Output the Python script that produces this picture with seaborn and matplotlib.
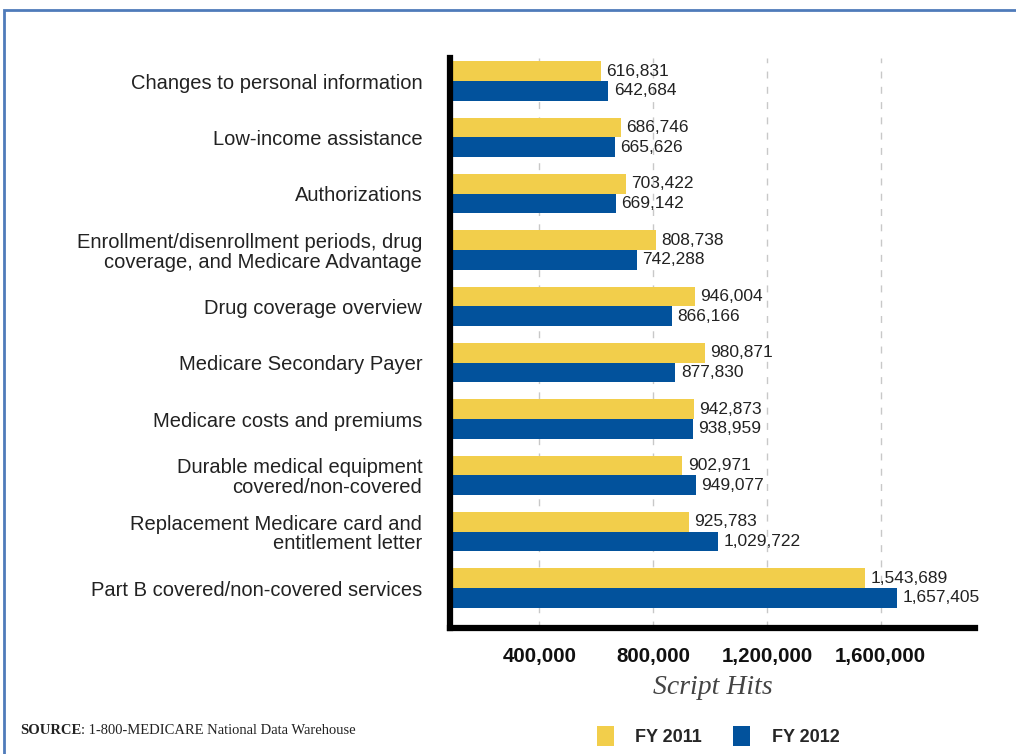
import matplotlib
matplotlib.use("Agg")
import matplotlib.pyplot as plt
import seaborn as sns
import pandas as pd
from matplotlib.patches import Patch, Rectangle

categories = [
    "Changes to personal information",
    "Low-income assistance",
    "Authorizations",
    "Enrollment/disenrollment periods, drug\ncoverage, and Medicare Advantage",
    "Drug coverage overview",
    "Medicare Secondary Payer",
    "Medicare costs and premiums",
    "Durable medical equipment\ncovered/non-covered",
    "Replacement Medicare card and\nentitlement letter",
    "Part B covered/non-covered services",
]
fy2011 = [616831, 686746, 703422, 808738, 946004, 980871, 942873, 902971, 925783, 1543689]
fy2012 = [642684, 665626, 669142, 742288, 866166, 877830, 938959, 949077, 1029722, 1657405]
series = ["FY 2011", "FY 2012"]
colors = ["#F2CE4B", "#02529C"]
xticks = [400000, 800000, 1200000, 1600000]

df = pd.DataFrame({
    "Category": categories * 2,
    "Year": [series[0]] * len(categories) + [series[1]] * len(categories),
    "Hits": fy2011 + fy2012,
})

sns.set_theme(style="white")
plt.rcParams["font.family"] = ["Liberation Sans", "DejaVu Sans"]

fig = plt.figure(figsize=(10.16, 7.54), dpi=100)
ax = fig.add_axes([450 / 1016, 1 - 628 / 754, 525 / 1016, (628 - 58) / 754])

sns.barplot(data=df, y="Category", x="Hits", hue="Year", orient="h",
            palette=colors, saturation=1, width=0.7, legend=False, ax=ax,
            order=categories, hue_order=series, edgecolor="none")

for cont, vals in zip(ax.containers, [fy2011, fy2012]):
    ax.bar_label(cont, labels=[f"{v:,}" for v in vals], padding=4,
                 fontsize=12.5, color="#222222")

ax.set_xlim(85500, 1932000)
ax.set_ylim(9.71, -0.41)
ax.set_xticks(xticks)
ax.set_xticklabels([f"{v:,}" for v in xticks], fontsize=14.8, fontweight="bold",
                   color="#111111")
ax.tick_params(axis="x", length=0, pad=14)
ax.tick_params(axis="y", length=0, pad=20, labelsize=14.5, labelcolor="#222222")
for lab in ax.get_yticklabels():
    lab.set_linespacing(1.05)
ax.set_ylabel("")
ax.set_xlabel("Script Hits", fontsize=20, style="italic", family="Liberation Serif",
              color="#444444", labelpad=6)

ax.grid(axis="x", color="#c8c8c8", linestyle=(0, (5, 6)), linewidth=1.0)
ax.set_axisbelow(True)
for s in ["top", "right"]:
    ax.spines[s].set_visible(False)
for s in ["left", "bottom"]:
    ax.spines[s].set_visible(True)
    ax.spines[s].set_color("black")
    ax.spines[s].set_linewidth(4.5)

handles = [Patch(facecolor=c, edgecolor="none") for c in colors]
fig.legend(handles, series, loc="center", bbox_to_anchor=(718 / 1016, 1 - 736 / 754),
           ncol=2, frameon=False, handlelength=0.95, handleheight=1.3,
           handletextpad=1.2, columnspacing=1.7,
           prop={"weight": "bold", "size": 13, "family": "Liberation Sans"})

t1 = fig.text(20 / 1016, 1 - 730 / 754, "SOURCE", fontsize=10.5, fontweight="bold",
              family="Liberation Serif", va="center", ha="left", color="#222222")
ax.annotate(": 1-800-MEDICARE National Data Warehouse", xy=(1, 0), xycoords=t1,
            va="bottom", ha="left", fontsize=10.5, family="Liberation Serif",
            color="#222222", annotation_clip=False)

fig.patches.append(Rectangle((4 / 1016, -0.1), 1.2, 1.1 - 10 / 754, fill=False,
                             edgecolor="#4F7BBA", linewidth=2.0,
                             transform=fig.transFigure, figure=fig))

fig.savefig("out.png", dpi=100)
